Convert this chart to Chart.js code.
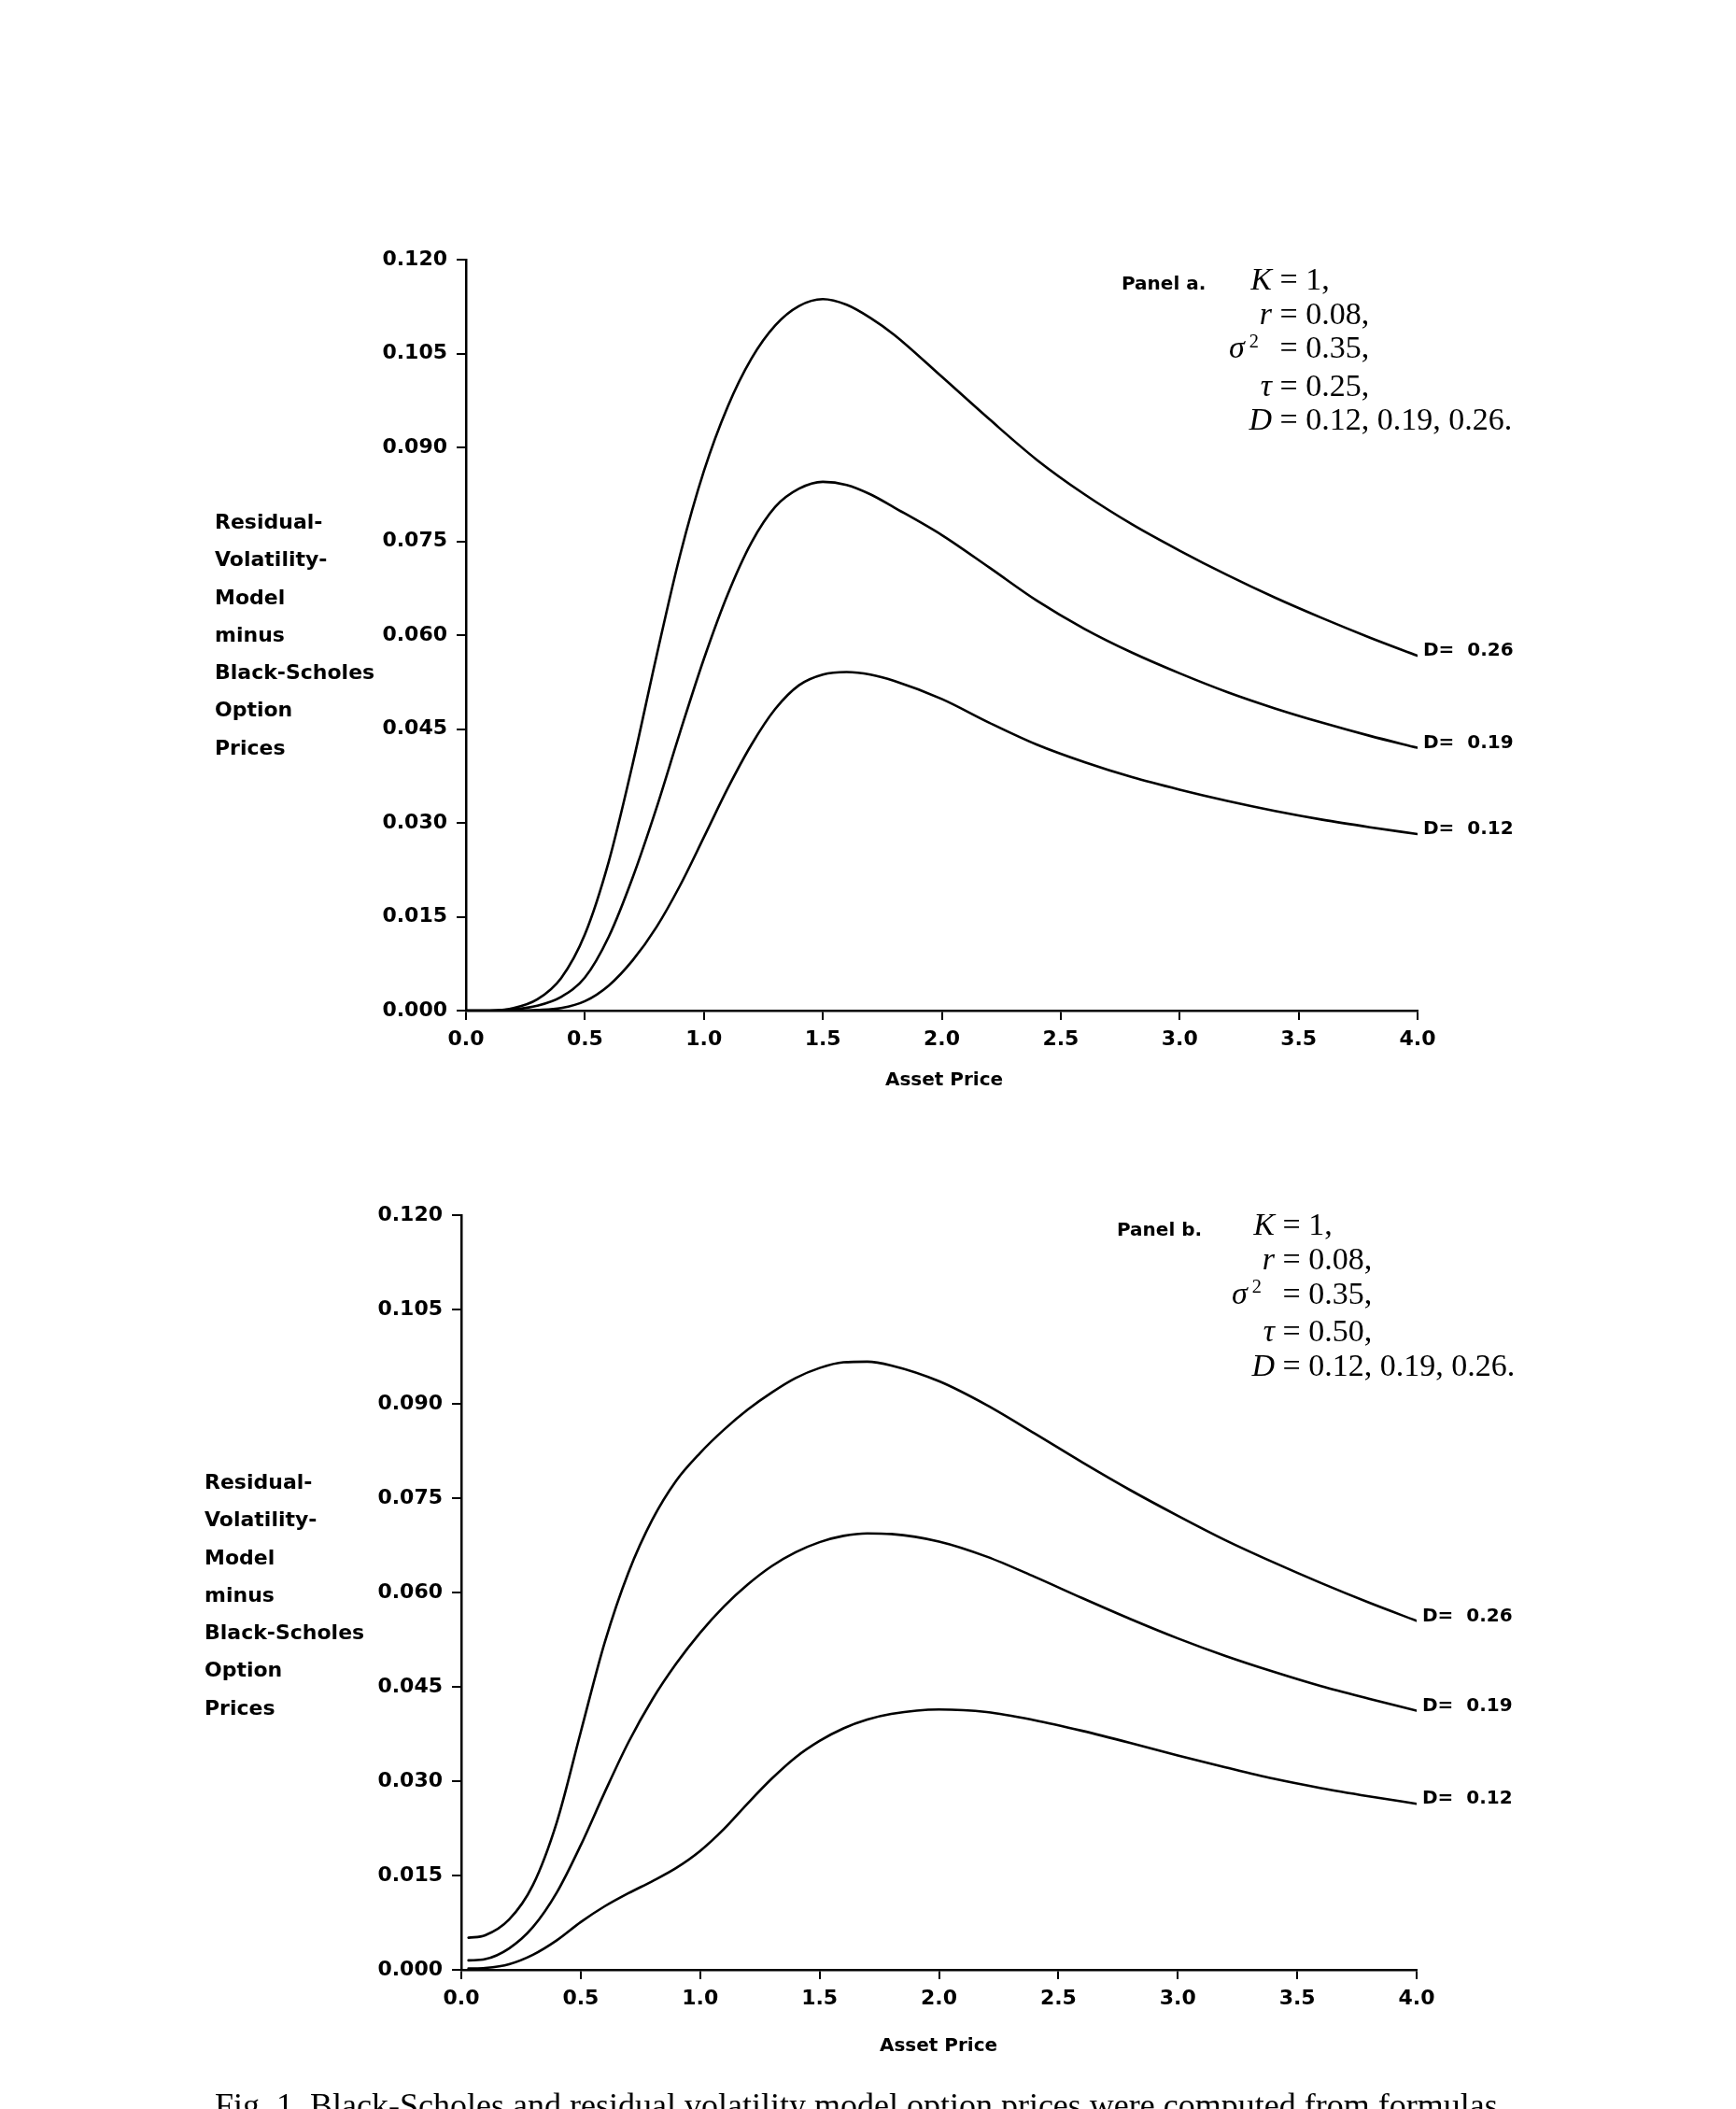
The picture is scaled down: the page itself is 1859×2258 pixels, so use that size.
<!DOCTYPE html>
<html lang="en">
<head>
<meta charset="UTF-8">
<title>Residual-Volatility-Model minus Black-Scholes</title>
<script src="https://cdn.jsdelivr.net/npm/chart.js"></script>
<style>
  html, body { margin: 0; padding: 0; background: #fff; }
  body { width: 1859px; height: 2258px; position: relative; overflow: hidden; font-family: "DejaVu Sans", sans-serif; color: #000; }
  canvas { position: absolute; left: 0; }
  .lbl { position: absolute; font-weight: bold; white-space: nowrap; }
  .ytitle { font-size: 22px; line-height: 40.3px; }
  .panel { font-size: 20px; line-height: 24px; }
  .axis { font-size: 20px; line-height: 24px; width: 400px; text-align: center; }
  .params { position: absolute; font-family: "Liberation Serif", "Times New Roman", serif; font-size: 34px; display: grid; grid-template-columns: 80px auto; white-space: nowrap; }
  .params .v { text-align: right; font-style: italic; }
  .sup { position: relative; top: -0.55em; font-size: 0.6em; font-style: normal; margin-left: 5px; margin-right: 14px; }
  .caption { position: absolute; left: 230px; top: 2236px; font-family: "Liberation Serif", "Times New Roman", serif; font-size: 36px; line-height: 36px; white-space: nowrap; }
</style>
</head>
<body>

<canvas id="panelA" width="1859" height="1200" style="top:0px"></canvas>
<canvas id="panelB" width="1859" height="1058" style="top:1200px"></canvas>

<!-- panel a texts -->
<div class="lbl ytitle" style="left:230px; top:539px">Residual-<br>Volatility-<br>Model<br>minus<br>Black-Scholes<br>Option<br>Prices</div>
<div class="lbl panel" style="left:1201px; top:291px">Panel a.</div>
<div class="params" style="left:1282px; top:281px; line-height:36.5px">
  <span class="v">K</span><span>&nbsp;= 1,</span>
  <span class="v">r</span><span>&nbsp;= 0.08,</span>
  <span class="v">σ<span class="sup">2</span></span><span>&nbsp;= 0.35,</span>
  <span class="v">τ</span><span>&nbsp;= 0.25,</span>
  <span class="v">D</span><span>&nbsp;= 0.12, 0.19, 0.26.</span>
</div>
<div class="lbl axis" style="left:811px; top:1143px">Asset Price</div>

<!-- panel b texts -->
<div class="lbl ytitle" style="left:219px; top:1567px">Residual-<br>Volatility-<br>Model<br>minus<br>Black-Scholes<br>Option<br>Prices</div>
<div class="lbl panel" style="left:1196px; top:1304px">Panel b.</div>
<div class="params" style="left:1285px; top:1293px; line-height:36.75px">
  <span class="v">K</span><span>&nbsp;= 1,</span>
  <span class="v">r</span><span>&nbsp;= 0.08,</span>
  <span class="v">σ<span class="sup">2</span></span><span>&nbsp;= 0.35,</span>
  <span class="v">τ</span><span>&nbsp;= 0.50,</span>
  <span class="v">D</span><span>&nbsp;= 0.12, 0.19, 0.26.</span>
</div>
<div class="lbl axis" style="left:805px; top:2177px">Asset Price</div>

<div class="caption">Fig. 1. Black-Scholes and residual volatility model option prices were computed from formulas</div>

<script>
// values
const dValues = [0.12, 0.19, 0.26];

// panel a (tau = 0.25)
const xA = [0, 0.1, 0.2, 0.3, 0.4, 0.5, 0.6, 0.7, 0.8, 0.9, 1.0, 1.1, 1.2, 1.3, 1.4, 1.5, 1.6, 1.7, 1.8, 2.0, 2.2, 2.4, 2.6, 2.8, 3.0, 3.2, 3.4, 3.6, 3.8, 4.0];
const aD12 = [0, 0, 0, 0.0001, 0.0004, 0.0015, 0.0040, 0.0080, 0.0133, 0.0200, 0.0277, 0.0355, 0.0425, 0.0482, 0.0520, 0.0537, 0.0541, 0.0537, 0.0527, 0.0498, 0.0460, 0.0425, 0.0397, 0.0373, 0.0353, 0.0335, 0.0319, 0.0305, 0.0293, 0.0282];
const aD19 = [0, 0, 0.0002, 0.0008, 0.0022, 0.0053, 0.0118, 0.0212, 0.0323, 0.0445, 0.0562, 0.0665, 0.0748, 0.0805, 0.0834, 0.0845, 0.0840, 0.0825, 0.0804, 0.0760, 0.0708, 0.0655, 0.0610, 0.0572, 0.0539, 0.0509, 0.0483, 0.0460, 0.0439, 0.0420];
const aD26 = [0, 0, 0.0004, 0.0018, 0.0052, 0.0122, 0.0238, 0.0393, 0.0565, 0.0728, 0.0862, 0.0965, 0.1042, 0.1095, 0.1126, 0.1137, 0.1128, 0.1107, 0.1080, 0.1013, 0.0945, 0.0880, 0.0825, 0.0777, 0.0735, 0.0696, 0.0660, 0.0627, 0.0596, 0.0567];

// panel b (tau = 0.50)
const xB = [0.03, 0.1, 0.2, 0.3, 0.4, 0.5, 0.6, 0.7, 0.8, 0.9, 1.0, 1.1, 1.2, 1.3, 1.4, 1.5, 1.6, 1.7, 1.8, 2.0, 2.2, 2.4, 2.6, 2.8, 3.0, 3.2, 3.4, 3.6, 3.8, 4.0];
const bD12 = [0.0002, 0.0003, 0.0009, 0.0024, 0.0047, 0.0076, 0.0101, 0.0122, 0.0141, 0.0162, 0.0189, 0.0224, 0.0265, 0.0304, 0.0338, 0.0364, 0.0384, 0.0398, 0.0407, 0.0414, 0.0410, 0.0397, 0.0380, 0.0361, 0.0341, 0.0322, 0.0304, 0.0289, 0.0276, 0.0264];
const bD19 = [0.0015, 0.0017, 0.0034, 0.0068, 0.0123, 0.0198, 0.0282, 0.0362, 0.0430, 0.0487, 0.0536, 0.0578, 0.0613, 0.0642, 0.0664, 0.0680, 0.0690, 0.0694, 0.0693, 0.0681, 0.0657, 0.0625, 0.0591, 0.0558, 0.0527, 0.0499, 0.0474, 0.0451, 0.0431, 0.0412];
const bD26 = [0.0051, 0.0055, 0.0080, 0.0135, 0.0235, 0.0378, 0.0520, 0.0632, 0.0716, 0.0778, 0.0822, 0.0859, 0.0891, 0.0918, 0.0941, 0.0957, 0.0966, 0.0967, 0.0961, 0.0936, 0.0898, 0.0853, 0.0807, 0.0763, 0.0722, 0.0683, 0.0648, 0.0615, 0.0584, 0.0555];

// axes
const xMin = 0, xMax = 4, xStep = 0.5;
const yMin = 0, yMax = 0.12, yStep = 0.015;

const tickFont = { family: 'DejaVu Sans', size: 22, weight: 'bold' };

// "D= 0.26" labels at the right end of each curve
const endLabels = {
    id: 'endLabels',
    afterDatasetsDraw(chart) {
        const ctx = chart.ctx;
        ctx.save();
        ctx.font = 'bold 20px "DejaVu Sans"';
        ctx.fillStyle = '#000';
        ctx.textBaseline = 'middle';
        ctx.textAlign = 'left';
        chart.data.datasets.forEach(function (ds, i) {
            const pts = chart.getDatasetMeta(i).data;
            const p = pts[pts.length - 1];
            ctx.fillText(ds.label, p.x + 6, p.y - 5);
        });
        ctx.restore();
    }
};

function criarPainel(id, xs, series, padding) {
    const datasets = series.map(function (ys, i) {
        return {
            label: 'D=  ' + dValues[i].toFixed(2),
            data: xs.map(function (x, j) { return { x: x, y: ys[j] }; }),
            borderColor: '#000',
            borderWidth: 2.6,
            pointRadius: 0,
            fill: false,
            tension: 0.4,
            cubicInterpolationMode: 'monotone',
            borderCapStyle: 'round',
            borderJoinStyle: 'round'
        };
    });

    return new Chart(document.getElementById(id), {
        type: 'line',
        data: { datasets: datasets },
        plugins: [endLabels],
        options: {
            responsive: false,
            animation: false,
            layout: { padding: padding },
            plugins: { legend: { display: false }, tooltip: { enabled: false } },
            scales: {
                x: {
                    type: 'linear',
                    min: xMin, max: xMax,
                    afterFit: function (s) { s.height = 60; },
                    ticks: {
                        stepSize: xStep,
                        color: '#000',
                        font: tickFont,
                        padding: 8,
                        maxRotation: 0,
                        callback: function (v) { return v.toFixed(1); }
                    },
                    grid: { drawOnChartArea: false, drawTicks: true, tickLength: 10, color: '#000', lineWidth: 2 },
                    border: { display: true, color: '#000', width: 2.5 }
                },
                y: {
                    type: 'linear',
                    min: yMin, max: yMax,
                    afterFit: function (s) { s.width = 120; },
                    ticks: {
                        stepSize: yStep,
                        color: '#000',
                        font: tickFont,
                        padding: 10,
                        callback: function (v) { return v.toFixed(3); }
                    },
                    grid: { drawOnChartArea: false, drawTicks: true, tickLength: 10, color: '#000', lineWidth: 2 },
                    border: { display: true, color: '#000', width: 2.5 }
                }
            }
        }
    });
}

criarPainel('panelA', xA, [aD12, aD19, aD26], { top: 278, left: 379, right: 341, bottom: 58 });
criarPainel('panelB', xB, [bD12, bD19, bD26], { top: 101, left: 374, right: 342, bottom: 89 });
</script>
</body>
</html>
